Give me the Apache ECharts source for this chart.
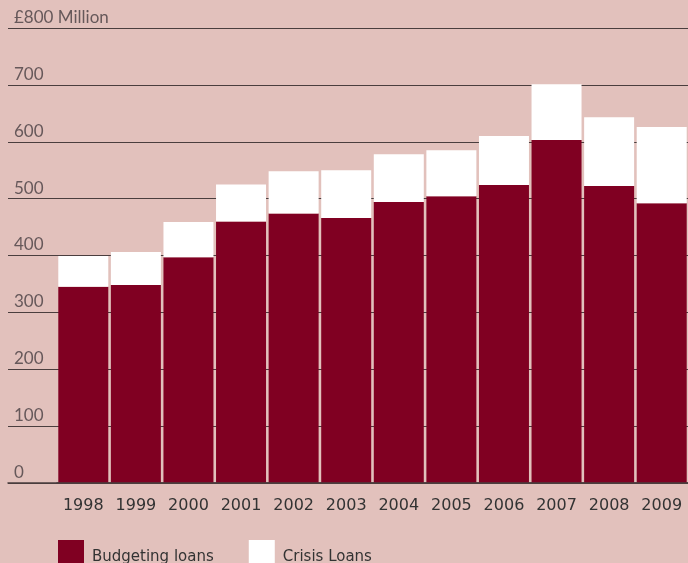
<!DOCTYPE html>
<html>
<head>
<meta charset="utf-8">
<script src="https://cdn.jsdelivr.net/npm/echarts@6/dist/echarts.min.js"></script>
<style>
  html, body { margin: 0; padding: 0; background: #e2c1bc; }
  #chart { width: 688px; height: 563px; }
</style>
</head>
<body>
<div id="chart"></div>
<script>
// Social Fund loans, £ million per year
const years = ['1998', '1999', '2000', '2001', '2002', '2003', '2004', '2005', '2006', '2007', '2008', '2009'];
const budgetingLoans = [345, 348, 397, 460, 474, 466, 494, 504, 524, 603, 522, 492];
const crisisLoans = [54, 58, 62, 65, 74, 84, 84, 81, 86, 98, 121, 134];
const yTicks = ['0', '100', '200', '300', '400', '500', '600', '700', '£800 Million'];

const chart = echarts.init(document.getElementById('chart'));

const gridLine = '#4a3e3e';

chart.setOption({
  backgroundColor: '#e2c1bc',
  animation: false,
  grid: [
    { left: 8, right: 0, top: 28, bottom: 80 },
    { left: 57, right: 0, top: 28, bottom: 80 }
  ],
  xAxis: [
    {
      gridIndex: 0, type: 'value', min: 0, max: 1,
      axisLine: { show: true, lineStyle: { color: gridLine, width: 1.5 } },
      axisTick: { show: false }, axisLabel: { show: false }, splitLine: { show: false }
    },
    {
      gridIndex: 1, type: 'category', data: years, z: 5,
      axisLine: { show: true, lineStyle: { color: gridLine, width: 1.5 } },
      axisTick: { show: false },
      axisLabel: { interval: 0, color: '#333', fontFamily: 'DejaVu Sans', fontSize: 16, margin: 15 }
    }
  ],
  yAxis: [
    {
      gridIndex: 0, type: 'value', min: 0, max: 800, interval: 100,
      axisLine: { show: false }, axisTick: { show: false },
      splitLine: { lineStyle: { color: gridLine, width: 1 } },
      axisLabel: {
        inside: true, margin: 6, align: 'left', verticalAlign: 'bottom',
        padding: [0, 0, 2, 0],
        color: '#66585a', fontFamily: 'Lato', fontSize: 17,
        formatter: v => yTicks[Math.round(v / 100)]
      }
    },
    {
      gridIndex: 1, type: 'value', min: 0, max: 800, interval: 100,
      show: false
    }
  ],
  legend: {
    left: 53, top: 535,
    itemWidth: 26, itemHeight: 26, itemGap: 35,
    icon: 'rect',
    formatter: '{t|{name}}',
    textStyle: {
      color: '#333', fontFamily: 'DejaVu Sans', fontSize: 15,
      rich: {
        t: { color: '#333', fontFamily: 'DejaVu Sans', fontSize: 15, padding: [8, 0, 0, 3] }
      }
    },
    data: ['Budgeting loans', 'Crisis Loans']
  },
  series: [
    {
      name: 'Budgeting loans', type: 'bar', stack: 'loans',
      xAxisIndex: 1, yAxisIndex: 1, barWidth: 50,
      itemStyle: { color: '#800022' },
      data: budgetingLoans
    },
    {
      name: 'Crisis Loans', type: 'bar', stack: 'loans',
      xAxisIndex: 1, yAxisIndex: 1, barWidth: 50,
      itemStyle: { color: '#ffffff' },
      data: crisisLoans
    }
  ]
});
</script>
</body>
</html>
